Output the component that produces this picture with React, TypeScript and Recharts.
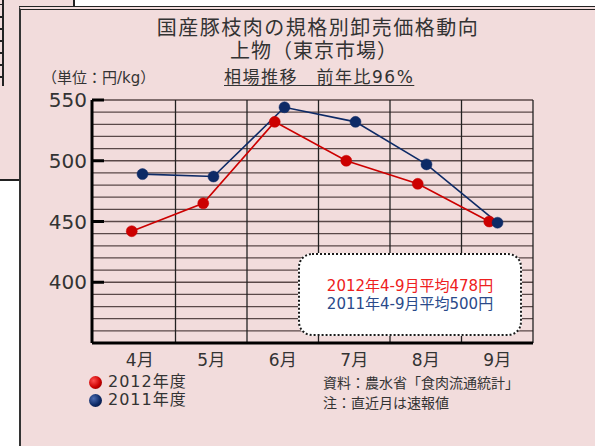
import React from 'react';
import { LineChart, Line, XAxis, YAxis, CartesianGrid } from 'recharts';

// ---- data ----
const MONTHS = ['4月', '5月', '6月', '7月', '8月', '9月'];
const PRICE_2012 = [442, 465, 532, 500, 481, 450];
const PRICE_2011 = [489, 487, 544, 532, 497, 449];
const Y_MAJOR_TICKS = [400, 450, 500, 550];
const Y_GRID_TICKS = [350, 360, 370, 380, 390, 400, 410, 420, 430, 440, 450, 460, 470, 480, 490, 500, 510, 520, 530, 540, 550];
const Y_DOMAIN: [number, number] = [350, 550];
const SERIES_NAMES = ['2012年度', '2011年度'];
const TITLE_LINES = ['国産豚枝肉の規格別卸売価格動向', '上物（東京市場）'];
const UNIT_LABEL = '（単位：円/kg）';
const SUBTITLE = '相場推移　前年比96%';
const AVG_LINES = ['2012年4-9月平均478円', '2011年4-9月平均500円'];
const SOURCE_LINES = ['資料：農水省「食肉流通統計」', '注：直近月は速報値'];

const data = MONTHS.map((m, i) => ({ month: m, y2012: PRICE_2012[i], y2011: PRICE_2011[i] }));

// ---- style ----
const FONT = '"DejaVu Sans", "Noto Sans CJK JP", sans-serif';
const TEXT = '#333333';
const PINK = '#f2dcdc';
const RED = '#cc0000';
const NAVY = '#0d2a66';
const X_PAD_LEFT = 12;

const YTick = (props: any) => {
  const { x, y, payload } = props;
  const v = payload.value;
  if (!Y_MAJOR_TICKS.includes(v)) return <g />;
  return (
    <g>
      <line x1={x + 5} x2={x + 17} y1={y} y2={y} stroke="#000" strokeWidth={3} />
      <text x={x} y={y} dy="0.36em" textAnchor="end" fontSize={20} fontFamily={FONT} fill={TEXT}>
        {v}
      </text>
    </g>
  );
};

const vGen = (p: any) => {
  const off = p.offset;
  const n = MONTHS.length;
  const step = (off.width - X_PAD_LEFT) / n;
  const res: number[] = [];
  for (let i = 1; i <= n; i++) res.push(off.left + X_PAD_LEFT + step * i);
  return res;
};

const abs = (left: number, cy: number, size: number, extra: any = {}) => ({
  position: 'absolute' as const,
  left,
  top: cy - size / 2,
  fontSize: size,
  lineHeight: `${size}px`,
  fontFamily: FONT,
  color: TEXT,
  whiteSpace: 'nowrap' as const,
  ...extra,
});

const ball = (c1: string, c2: string, c3: string, cy: number) => ({
  position: 'absolute' as const,
  left: 89,
  top: cy - 6.5,
  width: 13,
  height: 13,
  borderRadius: '50%',
  background: `radial-gradient(circle at 35% 35%, ${c1} 0%, ${c2} 55%, ${c3} 100%)`,
});

export default function App() {
  return (
    <div style={{ position: 'absolute', left: 0, top: 0, width: 595, height: 446, background: '#fff', overflow: 'hidden' }}>
      {/* panel behind */}
      <div style={{ position: 'absolute', left: 0, top: 0, width: 73, height: 179, background: PINK, borderRight: '2px solid #222', borderBottom: '2px solid #222' }} />
      <div
        style={{
          position: 'absolute', left: 0, top: 0, width: 2, height: 86, borderRight: '2px solid #222',
          background: 'repeating-linear-gradient(to bottom, transparent 0px, transparent 4px, #222 4px, #222 5.5px, transparent 5.5px, transparent 12px)',
        }}
      />
      {/* main panel */}
      <div style={{ position: 'absolute', left: 19, top: 6, width: 600, height: 460, background: PINK, borderLeft: '2px solid #333', borderTop: '4px double #222' }} />

      <div style={{ position: 'absolute', left: 0, top: 0 }}>
        <LineChart width={595} height={446} data={data} margin={{ top: 100, right: 62, bottom: 73, left: 32 }}>
          <CartesianGrid vertical={false} stroke="#5a4848" strokeWidth={1.3} />
          <CartesianGrid horizontal={false} stroke="#222" strokeWidth={1.3} verticalCoordinatesGenerator={vGen} />
          <XAxis
            xAxisId="main"
            dataKey="month"
            scale="band"
            padding={{ left: X_PAD_LEFT, right: 0 }}
            axisLine={{ stroke: '#000', strokeWidth: 3 }}
            tickLine={false}
            tickSize={0}
            tickMargin={11}
            height={30}
            interval={0}
            tick={{ fontSize: 17, fontFamily: FONT, fill: TEXT }}
          />
          <XAxis xAxisId="r" dataKey="month" scale="band" hide orientation="top" height={0} padding={{ left: 4, right: 8 }} />
          <XAxis xAxisId="b" dataKey="month" scale="band" hide orientation="top" height={0} padding={{ left: 15, right: 0 }} />
          <YAxis
            domain={Y_DOMAIN}
            ticks={Y_GRID_TICKS}
            interval={0}
            width={60}
            axisLine={{ stroke: '#000', strokeWidth: 3 }}
            tickLine={false}
            tickSize={0}
            tickMargin={5}
            tick={<YTick />}
          />
          <Line
            xAxisId="r"
            dataKey="y2012"
            stroke={RED}
            strokeWidth={1.6}
            dot={{ r: 5.5, fill: RED, stroke: RED, strokeWidth: 0.5 }}
            isAnimationActive={false}
          />
          <Line
            xAxisId="b"
            dataKey="y2011"
            stroke={NAVY}
            strokeWidth={1.6}
            dot={{ r: 5.5, fill: NAVY, stroke: NAVY, strokeWidth: 0.5 }}
            isAnimationActive={false}
          />
        </LineChart>
      </div>

      {/* titles */}
      <div style={abs(0, 28, 20, { width: 636, textAlign: 'center', letterSpacing: 1.5 })}>{TITLE_LINES[0]}</div>
      <div style={abs(0, 51, 20, { width: 628, textAlign: 'center', letterSpacing: 1 })}>{TITLE_LINES[1]}</div>
      <div style={abs(42, 78, 15)}>{UNIT_LABEL}</div>
      <div style={abs(224, 77, 17, { letterSpacing: 1.5, textDecoration: 'underline', textUnderlineOffset: 2 })}>{SUBTITLE}</div>

      {/* average box */}
      <div
        style={{
          position: 'absolute', left: 298, top: 253, width: 224, height: 83, boxSizing: 'border-box',
          background: '#fff', border: '2.5px dotted #1a1a1a', borderRadius: 14,
        }}
      />
      <div style={abs(298, 286, 15, { width: 224, textAlign: 'center', color: '#ee2020' })}>{AVG_LINES[0]}</div>
      <div style={abs(298, 304, 15, { width: 224, textAlign: 'center', color: '#2a4a8a' })}>{AVG_LINES[1]}</div>

      {/* legend */}
      <div style={ball('#ff5050', RED, '#700000', 382)} />
      <div style={ball('#4a6ab0', NAVY, '#050f30', 400)} />
      <div style={abs(108, 382, 16, { letterSpacing: 1 })}>{SERIES_NAMES[0]}</div>
      <div style={abs(108, 400, 16, { letterSpacing: 1 })}>{SERIES_NAMES[1]}</div>

      {/* source */}
      <div style={abs(323, 383, 14)}>{SOURCE_LINES[0]}</div>
      <div style={abs(323, 403, 14)}>{SOURCE_LINES[1]}</div>
    </div>
  );
}
